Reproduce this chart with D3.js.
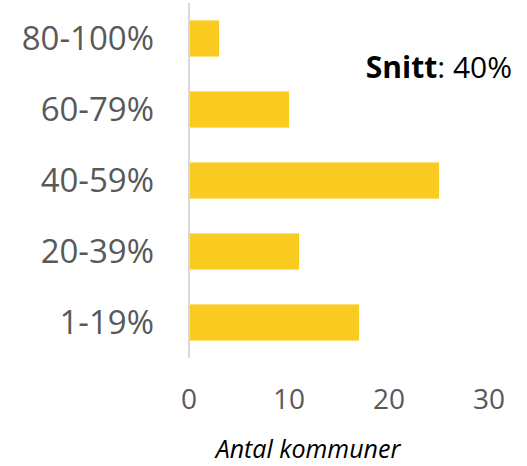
<!DOCTYPE html>
<html>
<head>
<meta charset="utf-8">
<script src="https://cdn.jsdelivr.net/npm/d3@7"></script>
<style>
  body { margin: 0; background: #fff; }
  text { font-family: "Open Sans", sans-serif; }
</style>
</head>
<body>
<div id="chart"></div>
<script>
const width = 527;
const height = 466;

// data
const categories = ["80-100%", "60-79%", "40-59%", "20-39%", "1-19%"];
const counts = [3, 10, 25, 11, 17];
const xTicks = [0, 10, 20, 30];
const axisTitle = "Antal kommuner";
const avgLabel = "Snitt";
const avgValue = "40%";

const svg = d3.select("#chart")
    .append("svg")
    .attr("width", width)
    .attr("height", height);

const x = d3.scaleLinear()
    .domain([0, 30])
    .range([189, 489]);

const y = d3.scaleBand()
    .domain(categories)
    .range([3, 358])
    .paddingInner(0.49)
    .paddingOuter(0.245);

// bars
svg.selectAll("rect.bar")
    .data(categories)
    .join("rect")
    .attr("class", "bar")
    .attr("x", x(0))
    .attr("y", d => y(d))
    .attr("width", (d, i) => x(counts[i]) - x(0))
    .attr("height", y.bandwidth())
    .attr("fill", "#facc22");

// vertical axis line
svg.append("line")
    .attr("x1", x(0)).attr("x2", x(0))
    .attr("y1", 3).attr("y2", 358)
    .attr("stroke", "#d9d9d9")
    .attr("stroke-width", 2);

// category labels
svg.selectAll("text.cat")
    .data(categories)
    .join("text")
    .attr("class", "cat")
    .attr("x", 154)
    .attr("y", d => y(d) + y.bandwidth() / 2 + 11.5)
    .attr("text-anchor", "end")
    .attr("font-size", "33px")
    .attr("fill", "#595959")
    .text(d => d);

// x tick labels
svg.selectAll("text.tick")
    .data(xTicks)
    .join("text")
    .attr("class", "tick")
    .attr("x", d => x(d))
    .attr("y", 409)
    .attr("text-anchor", "middle")
    .attr("font-size", "28px")
    .attr("fill", "#595959")
    .text(d => d);

// axis title
svg.append("text")
    .attr("x", 308)
    .attr("y", 458)
    .attr("text-anchor", "middle")
    .attr("font-size", "25px")
    .attr("font-style", "italic")
    .attr("fill", "#000")
    .text(axisTitle);

// average annotation
const avg = svg.append("text")
    .attr("x", 512)
    .attr("y", 78)
    .attr("text-anchor", "end")
    .attr("font-size", "30px")
    .attr("fill", "#000");
avg.append("tspan").attr("font-weight", "bold").text(avgLabel);
avg.append("tspan").text(": " + avgValue);
</script>
</body>
</html>
